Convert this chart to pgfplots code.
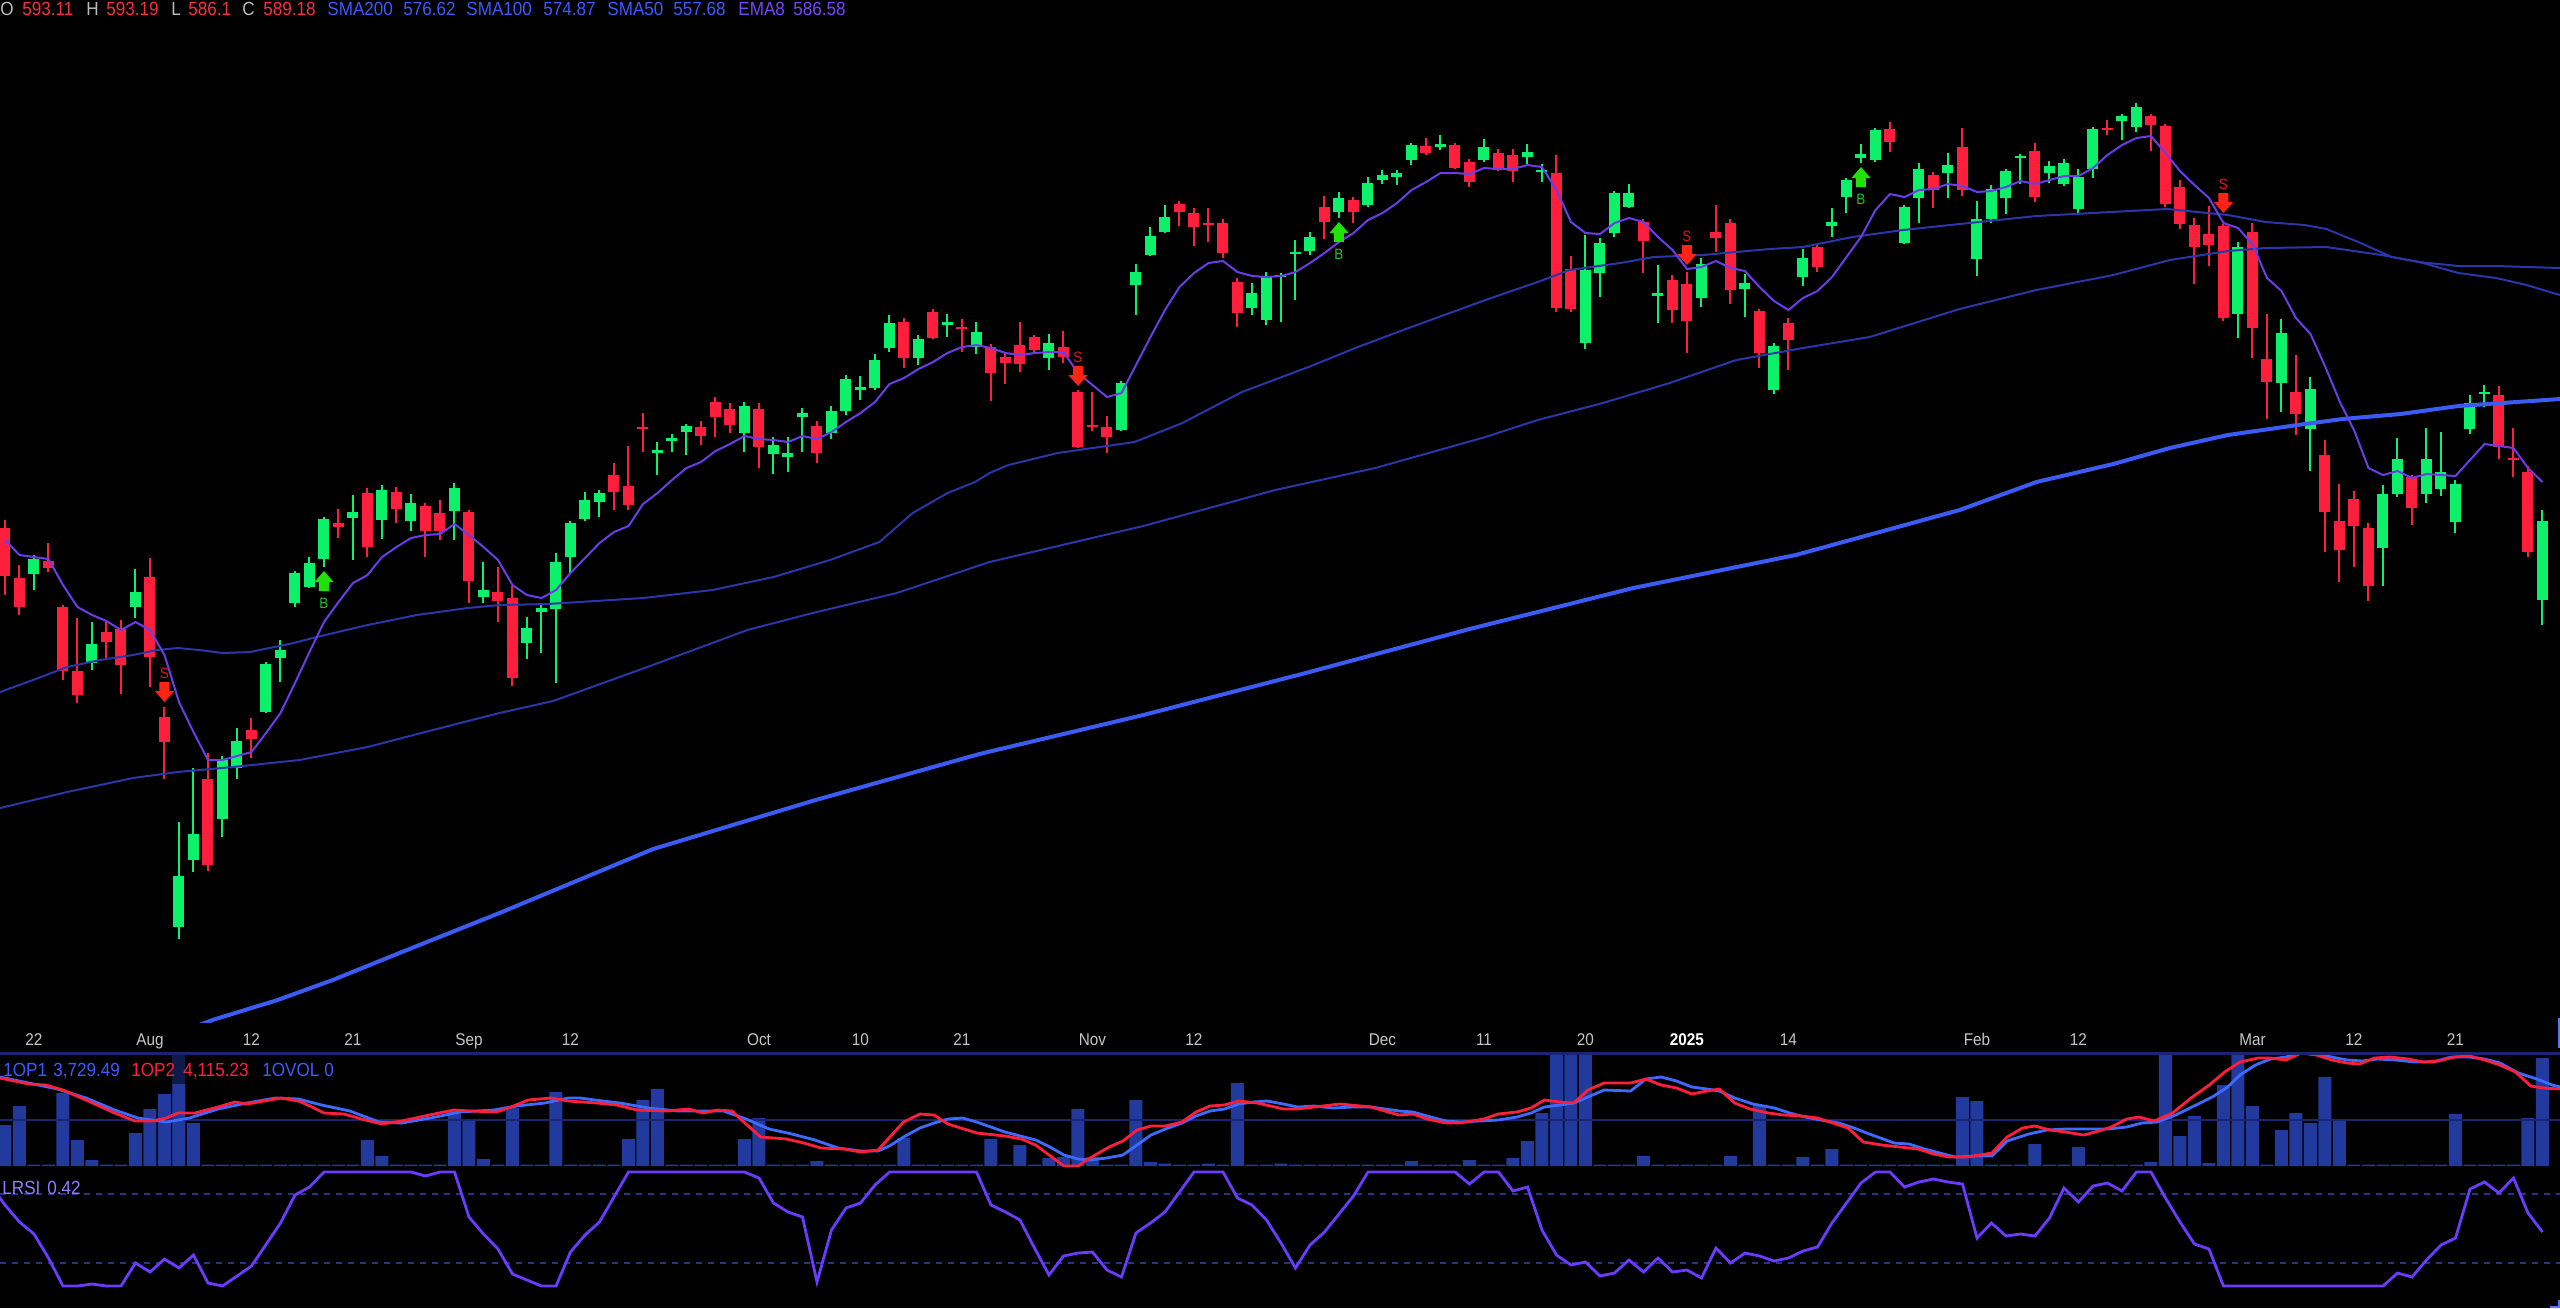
\documentclass[border=0pt]{standalone}
\usepackage{fontspec}
\setmainfont{Liberation Sans}
\newfontfamily\uifont[FakeStretch=0.9]{Liberation Sans}
\usepackage{pgfplots}
\usepackage{pgfplotstable}
\pgfplotsset{compat=1.18}

\definecolor{upc}{HTML}{0CF06A}
\definecolor{dnc}{HTML}{FF1E3C}
\definecolor{emac}{HTML}{6A3DE8}
\definecolor{smathin}{HTML}{2B36A8}
\definecolor{smathick}{HTML}{3A5CF5}
\definecolor{volc}{HTML}{22399E}
\definecolor{hlc}{HTML}{0E1A4A}
\definecolor{opblue}{HTML}{3D6BFF}
\definecolor{opred}{HTML}{FF1F3A}
\definecolor{panelc}{HTML}{1B2470}
\definecolor{lrsic}{HTML}{6B3BFF}
\definecolor{dashc}{HTML}{26348C}
\definecolor{hgrey}{HTML}{BBBBBB}
\definecolor{hred}{HTML}{FF2D3D}
\definecolor{hblue}{HTML}{3A5BFF}
\definecolor{hpurp}{HTML}{7744FF}
\definecolor{lrsilab}{HTML}{8C80FF}
\definecolor{datec}{HTML}{C6C6C6}
\definecolor{sigred}{HTML}{FF2414}
\definecolor{sigtxt}{HTML}{E01818}
\definecolor{siggrn}{HTML}{22E00A}
\definecolor{bgtxt}{HTML}{22C022}
\definecolor{edgec}{HTML}{5577FF}

% buy / sell arrows
\pgfdeclareplotmark{sdown}{%
  \pgfpathmoveto{\pgfqpoint{-2.5pt}{5pt}}%
  \pgfpathlineto{\pgfqpoint{2.5pt}{5pt}}%
  \pgfpathlineto{\pgfqpoint{2.5pt}{0.5pt}}%
  \pgfpathlineto{\pgfqpoint{4.8pt}{0.5pt}}%
  \pgfpathlineto{\pgfqpoint{0pt}{-5pt}}%
  \pgfpathlineto{\pgfqpoint{-4.8pt}{0.5pt}}%
  \pgfpathlineto{\pgfqpoint{-2.5pt}{0.5pt}}%
  \pgfpathclose\pgfusepathqfill}
\pgfdeclareplotmark{bup}{%
  \pgfpathmoveto{\pgfqpoint{-2.5pt}{-5pt}}%
  \pgfpathlineto{\pgfqpoint{2.5pt}{-5pt}}%
  \pgfpathlineto{\pgfqpoint{2.5pt}{-0.5pt}}%
  \pgfpathlineto{\pgfqpoint{4.8pt}{-0.5pt}}%
  \pgfpathlineto{\pgfqpoint{0pt}{5pt}}%
  \pgfpathlineto{\pgfqpoint{-4.8pt}{-0.5pt}}%
  \pgfpathlineto{\pgfqpoint{-2.5pt}{-0.5pt}}%
  \pgfpathclose\pgfusepathqfill}

\pgfplotsset{panel/.style={scale only axis, width=1280pt, anchor=north west,
  xmin=-0.3448, xmax=176.2069, enlargelimits=false,
  axis line style={draw=none}, tick style={draw=none},
  xtick=\empty, ytick=\empty}}

% candles: o h l c in screen rows (small = high price)
\pgfplotstableread[row sep=\\]{
k o h l c\\
2 574 555 590 559\\ 6 663 622 670 644\\ 9 607 569 618 592\\ 12 927 822 939 876\\
13 860 768 872 834\\ 15 819 756 837 760\\ 16 768 728 779 741\\ 18 712 662 713 664\\
19 658 640 682 650\\ 20 603 571 607 573\\ 21 587 557 588 563\\ 22 559 517 567 519\\
24 518 495 560 512\\ 26 520 485 539 490\\ 28 521 494 531 503\\ 31 511 483 540 488\\
33 597 562 603 590\\ 36 643 617 659 628\\ 37 612 605 653 608\\ 38 609 553 683 562\\
39 557 521 573 523\\ 40 519 492 521 500\\ 41 502 490 517 493\\ 45 453 442 475 450\\
46 441 434 452 438\\ 47 432 424 455 426\\ 51 433 402 452 406\\ 53 454 437 474 445\\
54 457 437 472 453\\ 55 417 408 452 413\\ 57 433 406 439 411\\ 58 411 375 415 379\\
59 390 376 400 387\\ 60 388 354 390 360\\ 61 348 315 352 323\\ 63 358 335 365 339\\
65 325 314 337 322\\ 67 347 322 354 332\\ 72 358 334 370 343\\ 77 430 381 431 383\\
78 285 264 315 272\\ 79 255 227 256 236\\ 80 232 205 233 217\\ 86 308 283 315 293\\
87 320 272 325 277\\ 88 277 273 322 275\\ 89 254 240 300 252\\ 90 251 232 255 237\\
92 212 192 218 198\\ 94 205 177 207 183\\ 95 180 170 184 175\\ 96 177 170 185 173\\
97 160 143 165 145\\ 99 147 135 150 144\\ 102 160 139 162 147\\ 105 157 144 164 152\\
106 172 164 182 170\\ 109 343 235 349 270\\ 110 273 238 297 243\\ 111 233 191 237 193\\
112 207 184 208 193\\ 114 296 265 323 293\\ 117 298 258 307 264\\ 120 289 274 317 283\\
122 390 343 394 346\\ 124 277 249 286 258\\ 126 226 208 237 222\\ 127 197 178 213 180\\
128 158 144 163 154\\ 129 160 128 162 130\\ 131 243 205 244 207\\ 132 198 163 223 169\\
134 173 153 198 165\\ 136 259 201 276 219\\ 137 219 185 223 189\\ 138 198 169 214 171\\
139 158 154 184 156\\ 141 173 161 183 166\\ 142 184 159 186 163\\ 143 209 169 215 177\\
144 169 127 178 129\\ 146 121 114 140 116\\ 147 127 103 132 107\\ 154 314 242 338 247\\
157 383 319 412 333\\ 159 429 377 471 389\\ 164 548 485 586 494\\ 165 494 438 497 459\\
167 494 428 503 459\\ 168 489 432 496 472\\ 169 522 480 533 484\\ 170 429 395 434 403\\
171 394 385 407 392\\ 175 600 510 625 521\\
}\upcandles

\pgfplotstableread[row sep=\\]{
k o h l c\\
0 528 520 595 576\\ 1 578 565 615 607\\ 3 561 543 572 568\\ 4 607 605 680 671\\
5 671 618 703 695\\ 7 632 622 659 642\\ 8 629 620 694 665\\ 10 577 558 687 657\\
11 717 707 779 742\\ 14 779 753 871 865\\ 17 730 718 758 739\\ 23 523 509 538 527\\
25 493 488 557 547\\ 27 492 487 523 509\\ 29 506 503 557 531\\ 30 513 500 540 531\\
32 512 510 603 581\\ 34 592 567 622 601\\ 35 598 586 686 678\\ 42 475 463 510 492\\
43 486 446 510 505\\ 44 427 413 452 429\\ 48 427 421 445 436\\ 49 402 397 437 417\\
50 409 403 433 425\\ 52 409 403 468 447\\ 56 426 421 463 453\\ 62 322 318 368 358\\
64 312 309 339 338\\ 66 327 319 352 329\\ 68 347 344 401 373\\ 69 357 353 384 363\\
70 345 322 372 364\\ 71 337 335 354 350\\ 73 347 331 363 357\\ 74 392 390 448 447\\
75 425 392 431 427\\ 76 427 416 453 437\\ 81 204 201 226 212\\ 82 213 208 246 227\\
83 223 208 242 225\\ 84 223 219 258 253\\ 85 282 278 327 313\\ 91 207 196 239 222\\
93 200 197 223 212\\ 98 146 138 155 153\\ 100 145 143 169 168\\ 101 162 159 187 182\\
103 153 149 171 170\\ 104 155 149 182 171\\ 107 173 155 312 308\\ 108 269 256 312 309\\
113 222 219 273 241\\ 115 280 275 323 310\\ 116 284 272 353 321\\ 118 232 205 252 238\\
119 223 219 304 290\\ 121 311 309 368 353\\ 123 323 318 370 340\\ 125 247 245 272 267\\
130 129 122 152 142\\ 133 175 172 208 190\\ 135 147 128 196 190\\ 140 151 143 202 197\\
145 128 120 135 130\\ 148 116 114 151 125\\ 149 126 124 207 204\\ 150 187 180 229 224\\
151 225 218 284 247\\ 152 234 206 266 245\\ 153 226 224 321 318\\ 155 232 223 358 328\\
156 359 314 419 382\\ 158 392 355 435 414\\ 160 455 440 552 512\\ 161 521 484 582 550\\
162 499 491 567 526\\ 163 528 523 601 586\\ 166 477 475 525 508\\ 172 395 386 459 447\\
173 458 428 477 460\\ 174 472 466 557 552\\
}\downcandles

\pgfplotstableread[row sep=\\]{
k y\\
0 540\\ 1 555\\ 2 557\\ 3 559\\ 4 585\\ 5 607\\ 6 615\\ 7 621\\ 8 630\\ 9 622\\
10 630\\ 11 655\\ 12 702\\ 13 732\\ 14 760\\ 15 760\\ 16 756\\ 17 752\\ 18 733\\ 19 713\\
20 683\\ 21 652\\ 22 622\\ 23 602\\ 24 583\\ 25 575\\ 26 557\\ 27 547\\ 28 538\\ 29 535\\
30 534\\ 31 524\\ 32 535\\ 33 547\\ 34 560\\ 35 585\\ 36 595\\ 37 598\\ 38 590\\ 39 573\\
40 558\\ 41 543\\ 42 532\\ 43 526\\ 44 504\\ 45 493\\ 46 480\\ 47 468\\ 48 462\\ 49 451\\
50 444\\ 51 436\\ 52 439\\ 53 440\\ 54 442\\ 55 436\\ 56 439\\ 57 432\\ 58 422\\ 59 413\\
60 402\\ 61 384\\ 62 378\\ 63 369\\ 64 362\\ 65 353\\ 66 347\\ 67 345\\ 68 348\\ 69 353\\
70 355\\ 71 353\\ 72 352\\ 73 352\\ 74 373\\ 75 385\\ 76 397\\ 77 393\\ 78 365\\ 79 337\\
80 310\\ 81 287\\ 82 273\\ 83 263\\ 84 261\\ 85 272\\ 86 276\\ 87 277\\ 88 276\\ 89 272\\
90 263\\ 91 253\\ 92 242\\ 93 233\\ 94 220\\ 95 213\\ 96 203\\ 97 190\\ 98 182\\ 99 173\\
100 173\\ 101 174\\ 102 168\\ 103 169\\ 104 169\\ 105 165\\ 106 167\\ 107 190\\ 108 222\\ 109 233\\
110 234\\ 111 223\\ 112 218\\ 113 222\\ 114 237\\ 115 250\\ 116 269\\ 117 267\\ 118 261\\ 119 268\\
120 271\\ 121 287\\ 122 301\\ 123 310\\ 124 298\\ 125 291\\ 126 277\\ 127 257\\ 128 237\\ 129 210\\
130 194\\ 131 197\\ 132 190\\ 133 189\\ 134 184\\ 135 186\\ 136 192\\ 137 191\\ 138 187\\ 139 181\\
140 184\\ 141 180\\ 142 176\\ 143 176\\ 144 168\\ 145 155\\ 146 145\\ 147 138\\ 148 136\\ 149 153\\
150 171\\ 151 185\\ 152 198\\ 153 223\\ 154 228\\ 155 244\\ 156 278\\ 157 291\\ 158 318\\ 159 334\\
160 366\\ 161 401\\ 162 430\\ 163 468\\ 164 475\\ 165 471\\ 166 478\\ 167 474\\ 168 475\\ 169 476\\
170 460\\ 171 444\\ 172 446\\ 173 448\\ 174 468\\ 175 482\\
}\emaeight

\pgfplotstableread[row sep=\\]{
k y\\
-0.34 692\\ 1.93 680\\ 4.28 667\\ 6.55 660\\ 8.83 655\\ 10.5 650\\ 11.9 648\\ 13.4 650\\
15 653\\ 16.9 652\\ 19.9 643\\ 21.5 637\\ 25 625\\ 28.4 615\\ 31.9 608\\ 34.1 605\\
37.4 604\\ 44 598\\ 48.8 590\\ 53 577\\ 56.9 560\\ 60.3 542\\ 62.6 513\\ 65 493\\
66.9 482\\ 67.9 473\\ 69.2 465\\ 72.6 453\\ 77.9 442\\ 81.2 423\\ 85.3 392\\ 89.9 367\\
93.3 347\\ 96.8 328\\ 102.1 300\\ 105.7 282\\ 107.9 270\\ 111.4 263\\ 113.7 257\\ 117.1 255\\
121.7 249\\ 124 247\\ 127.4 237\\ 130.9 230\\ 134.8 224\\ 140.1 216\\ 149.1 209\\ 153.3 215\\
155.9 222\\ 158.6 225\\ 160.1 229\\ 162.3 242\\ 164.6 257\\ 166.5 262\\ 169.2 273\\ 171.8 278\\
173.9 285\\ 176.2 295\\
}\smafifty

\pgfplotstableread[row sep=\\]{
k y\\
-0.34 808\\ 4.28 792\\ 8.83 778\\ 11.9 772\\ 15.7 767\\ 20.3 760\\ 25 747\\ 29.5 730\\
34.1 713\\ 37.8 701\\ 44.3 667\\ 51.2 630\\ 55.7 613\\ 61.5 593\\ 67.9 562\\ 78.5 526\\
87.6 490\\ 94.5 468\\ 102.1 437\\ 105.7 420\\ 110.2 403\\ 114.8 383\\ 119.4 360\\ 124 348\\
128.6 337\\ 134.8 309\\ 140.1 290\\ 145.4 275\\ 149.3 260\\ 153.3 251\\ 155.9 248\\ 160.1 247\\
163.9 255\\ 166.5 262\\ 169.2 266\\ 171.8 266\\ 176.2 268\\
}\smahundred

\pgfplotstableread[row sep=\\]{
k y\\
10 1044\\ 14.3 1020\\ 18.8 1000\\ 22.6 980\\ 27.2 953\\ 34.1 913\\ 44.7 849\\ 55.9 800\\
67.2 754\\ 78.5 715\\ 89.7 673\\ 101 629\\ 112.3 588\\ 123.5 555\\ 134.8 510\\ 140.1 482\\
145.4 464\\ 149.3 448\\ 153.3 435\\ 158.1 425\\ 161.2 419\\ 165.2 414\\ 169.2 406\\ 176.2 399\\
}\smatwohundred

\pgfplotstableread[row sep=\\]{
k y\\ 11 692\\ 74 376\\ 116 255\\ 153 203\\
}\sells
\pgfplotstableread[row sep=\\]{
k y\\ 22 581\\ 92 232\\ 128 177\\
}\buys

% volume bar heights (px of panel)
\pgfplotstableread[row sep=\\]{
k v\\
0 41\\ 1 60\\ 2 1.5\\ 3 1.5\\ 4 73\\ 5 26\\ 6 6\\ 7 1.5\\ 8 1.5\\ 9 33\\
10 57\\ 11 72\\ 12 82\\ 13 43\\ 14 1.5\\ 15 1.5\\ 16 1.5\\ 17 1.5\\ 18 1.5\\ 19 1.5\\
20 1.5\\ 21 1.5\\ 22 1.5\\ 23 1.5\\ 24 1.5\\ 25 26\\ 26 10\\ 27 1.5\\ 28 1.5\\ 29 1.5\\
30 1.5\\ 31 55\\ 32 47\\ 33 7\\ 34 1.5\\ 35 58\\ 36 1.5\\ 37 1.5\\ 38 74\\ 39 1.5\\
40 1.5\\ 41 1.5\\ 42 1.5\\ 43 27\\ 44 66\\ 45 77\\ 46 1.5\\ 47 1.5\\ 48 1.5\\ 49 1.5\\
50 1.5\\ 51 27\\ 52 48\\ 53 1.5\\ 54 1.5\\ 55 1.5\\ 56 5\\ 57 1.5\\ 58 1.5\\ 59 1.5\\
60 1.5\\ 61 1.5\\ 62 28\\ 63 1.5\\ 64 1.5\\ 65 1.5\\ 66 1.5\\ 67 1.5\\ 68 27\\ 69 1.5\\
70 21\\ 71 1.5\\ 72 8\\ 73 9\\ 74 57\\ 75 9\\ 76 1.5\\ 77 1.5\\ 78 66\\ 79 4\\
80 2.5\\ 81 1.5\\ 82 1.5\\ 83 2.5\\ 84 1.5\\ 85 83\\ 86 1.5\\ 87 1.5\\ 88 2.5\\ 89 1.5\\
90 1.5\\ 91 1.5\\ 92 1.5\\ 93 1.5\\ 94 1.5\\ 95 1.5\\ 96 1.5\\ 97 5\\ 98 1.5\\ 99 1.5\\
100 1.5\\ 101 6\\ 102 1.5\\ 103 1.5\\ 104 8\\ 105 25\\ 106 53\\ 107 120\\ 108 120\\ 109 120\\
110 1.5\\ 111 1.5\\ 112 1.5\\ 113 10\\ 114 1.5\\ 115 1.5\\ 116 1.5\\ 117 1.5\\ 118 1.5\\ 119 10\\
120 1.5\\ 121 61\\ 122 1.5\\ 123 1.5\\ 124 9\\ 125 1.5\\ 126 17\\ 127 1.5\\ 128 1.5\\ 129 1.5\\
130 1.5\\ 131 1.5\\ 132 1.5\\ 133 1.5\\ 134 1.5\\ 135 69\\ 136 65\\ 137 1.5\\ 138 1.5\\ 139 1.5\\
140 22\\ 141 1.5\\ 142 1.5\\ 143 19\\ 144 1.5\\ 145 1.5\\ 146 1.5\\ 147 1.5\\ 148 4\\ 149 120\\
150 30\\ 151 50\\ 152 3\\ 153 81\\ 154 120\\ 155 60\\ 156 1.5\\ 157 36\\ 158 53\\ 159 43\\
160 89\\ 161 45\\ 162 1.5\\ 163 1.5\\ 164 1.5\\ 165 1.5\\ 166 1.5\\ 167 1.5\\ 168 1.5\\ 169 52\\
170 1.5\\ 171 1.5\\ 172 1.5\\ 173 1.5\\ 174 48\\ 175 108\\
}\volume

\pgfplotstableread[row sep=\\]{
k y\\
-0.34 1077\\ 1.63 1083\\ 3.61 1089\\ 5.59 1098\\ 7.57 1110\\ 9.16 1118\\ 11.14 1122\\ 12.72 1118\\
14.69 1109\\ 16.68 1103\\ 18.66 1098\\ 20.24 1099\\ 21.83 1105\\ 23.79 1111\\ 25.79 1122\\ 27.37 1123\\
29.72 1117\\ 31.31 1112\\ 33.7 1110\\ 35.28 1106\\ 37.24 1103\\ 38.83 1098\\ 39.64 1098\\ 41.23 1101\\
42.41 1103\\ 44.39 1108\\ 46.37 1111\\ 49.54 1111\\ 51.12 1119\\ 52.7 1129\\ 54.28 1134\\ 55.86 1140\\
57.45 1148\\ 59.03 1151\\ 60.21 1151\\ 60.99 1146\\ 61.97 1137\\ 63.1 1128\\ 64.07 1123\\ 65.03 1119\\
66.04 1118\\ 67.01 1122\\ 68.97 1132\\ 71.08 1140\\ 72.07 1147\\ 73.03 1155\\ 74 1159\\ 74.83 1160\\
75.97 1158\\ 77.1 1155\\ 78.07 1145\\ 79.03 1135\\ 80.03 1129\\ 81.17 1123\\ 82.14 1116\\ 83.1 1111\\
84.1 1109\\ 85.08 1104\\ 86.06 1102\\ 87.03 1101\\ 88.17 1104\\ 89.15 1107\\ 90.28 1106\\ 91.59 1108\\
92.9 1107\\ 94.21 1107\\ 95.17 1109\\ 96.14 1111\\ 97.1 1112\\ 98.07 1116\\ 99.38 1121\\ 100.34 1122\\
101.66 1121\\ 102.97 1120\\ 104.28 1117\\ 105.24 1113\\ 106.17 1107\\ 107.21 1105\\ 108.19 1103\\ 109.17 1097\\
110.28 1090\\ 112.11 1091\\ 113.17 1079\\ 114.21 1077\\ 115.28 1081\\ 116.34 1087\\ 117.38 1089\\ 118.23 1091\\
119.29 1098\\ 120.55 1104\\ 122.03 1108\\ 123.09 1113\\ 124.14 1117\\ 125.21 1120\\ 126.47 1123\\ 127.52 1128\\
128.58 1134\\ 130.28 1143\\ 131.31 1144\\ 132.39 1149\\ 133.44 1153\\ 134.5 1157\\ 135.97 1156\\ 137.03 1156\\
138.08 1141\\ 139.57 1134\\ 140.83 1130\\ 142.1 1129\\ 143.79 1129\\ 145.05 1129\\ 146.32 1127\\ 147.37 1123\\
148.43 1122\\ 149.7 1115\\ 150.97 1106\\ 152.23 1097\\ 153.29 1087\\ 154.14 1075\\ 155.21 1065\\ 156.24 1059\\
157.3 1057\\ 158.36 1053\\ 159.41 1054\\ 160.47 1057\\ 161.52 1060\\ 162.59 1061\\ 163.63 1059\\ 164.9 1060\\
166.17 1062\\ 167.43 1062\\ 168.7 1057\\ 169.97 1057\\ 171.02 1059\\ 172.07 1063\\ 173.34 1073\\ 174.61 1079\\
175.67 1085\\ 176.21 1087\\
}\opone

\pgfplotstableread[row sep=\\]{
k y\\
-0.34 1078\\ 1.63 1084\\ 2.83 1085\\ 4 1090\\ 5.59 1100\\ 7.57 1113\\ 8.97 1121\\ 10.14 1121\\
11.14 1118\\ 11.93 1113\\ 13.1 1113\\ 14.69 1107\\ 15.86 1102\\ 16.69 1104\\ 17.86 1101\\ 19.03 1098\\
20.24 1101\\ 21.03 1106\\ 22 1113\\ 23.38 1114\\ 24.59 1119\\ 25.98 1124\\ 27.37 1121\\ 28.95 1116\\
30.93 1110\\ 32.12 1111\\ 33.9 1112\\ 34.9 1107\\ 36.07 1100\\ 37.66 1098\\ 38.83 1101\\ 40.83 1103\\
42.21 1105\\ 43.59 1110\\ 45.59 1111\\ 47.17 1109\\ 48.14 1113\\ 49.14 1110\\ 50.14 1111\\ 51.1 1124\\
52.11 1137\\ 53.9 1139\\ 55.08 1143\\ 56.28 1148\\ 57.86 1149\\ 59.03 1152\\ 60.21 1150\\ 61.97 1122\\
63.1 1114\\ 64.07 1115\\ 65.03 1124\\ 67.03 1133\\ 68.97 1136\\ 70.11 1139\\ 71.08 1145\\ 73.03 1166\\
74 1166\\ 74.83 1158\\ 76.14 1147\\ 77.1 1141\\ 78.07 1130\\ 79.03 1126\\ 80.03 1126\\ 81.17 1122\\
82.14 1112\\ 83.1 1106\\ 84.1 1105\\ 85.08 1101\\ 86.38 1103\\ 88.17 1109\\ 89.15 1109\\ 90.28 1107\\
92.07 1104\\ 94.21 1107\\ 95.17 1111\\ 96.14 1115\\ 97.1 1114\\ 98.07 1119\\ 99.38 1123\\ 100.34 1123\\
102 1119\\ 102.97 1114\\ 104.28 1112\\ 105.24 1108\\ 106.17 1100\\ 107.21 1102\\ 108.19 1103\\ 109.17 1090\\
110.28 1083\\ 112.11 1083\\ 113.17 1079\\ 114.21 1085\\ 115.28 1088\\ 116.34 1094\\ 117.38 1091\\ 118.23 1089\\
119.29 1103\\ 120.34 1109\\ 121.61 1113\\ 122.67 1115\\ 123.93 1116\\ 125 1118\\ 126.05 1123\\ 127.1 1128\\
128.16 1142\\ 129.43 1145\\ 130.69 1147\\ 131.96 1149\\ 133.01 1154\\ 134.07 1157\\ 135.34 1157\\ 137.03 1153\\
138.08 1137\\ 139.14 1128\\ 139.99 1126\\ 141.03 1130\\ 142.1 1132\\ 143.37 1135\\ 144.41 1131\\ 145.26 1127\\
146.32 1119\\ 147.17 1117\\ 148.22 1121\\ 149.49 1113\\ 150.76 1098\\ 152.02 1085\\ 153.08 1072\\ 154.14 1062\\
155.4 1058\\ 156.24 1058\\ 157.3 1060\\ 158.36 1053\\ 159.41 1055\\ 160.47 1060\\ 161.52 1063\\ 162.37 1064\\
163.42 1058\\ 164.48 1057\\ 165.74 1059\\ 166.8 1062\\ 167.86 1061\\ 168.91 1057\\ 169.97 1056\\ 171.02 1060\\
172.07 1065\\ 173.14 1072\\ 174.19 1086\\ 175.03 1088\\ 176.21 1089\\
}\optwo

\pgfplotstableread[row sep=\\]{
k y\\
-1 1185\\ 0 1205\\ 1 1222\\ 2 1234\\ 3 1258\\ 4 1286\\ 5 1286\\ 6 1284\\ 7 1286\\ 8 1286\\
9 1263\\ 10 1272\\ 11 1259\\ 12 1268\\ 13 1255\\ 14 1283\\ 15 1286\\ 17 1266\\ 19 1223\\ 20 1195\\
21 1187\\ 22 1172\\ 28 1172\\ 29 1176\\ 30 1172\\ 31 1172\\ 32 1217\\ 33 1234\\ 34 1249\\ 35 1274\\
37 1286\\ 38 1286\\ 39 1252\\ 40 1235\\ 41 1222\\ 43 1172\\ 51 1172\\ 52 1178\\ 53 1203\\ 54 1212\\
55 1217\\ 56 1282\\ 57 1230\\ 58 1208\\ 59 1203\\ 60 1185\\ 61 1172\\ 67 1172\\ 68 1205\\ 69 1212\\
70 1220\\ 71 1248\\ 72 1275\\ 73 1256\\ 74 1253\\ 75 1252\\ 76 1270\\ 77 1277\\ 78 1233\\ 79 1223\\
80 1212\\ 81 1192\\ 82 1172\\ 84 1172\\ 85 1198\\ 86 1205\\ 87 1220\\ 88 1243\\ 89 1268\\ 90 1245\\
91 1232\\ 92 1214\\ 93 1196\\ 94 1172\\ 100 1172\\ 101 1184\\ 102 1172\\ 103 1172\\ 104 1191\\ 105 1187\\
106 1230\\ 107 1255\\ 108 1265\\ 109 1262\\ 110 1276\\ 111 1273\\ 112 1260\\ 113 1272\\ 114 1258\\ 115 1272\\
116 1270\\ 117 1278\\ 118 1248\\ 119 1263\\ 120 1253\\ 121 1256\\ 122 1261\\ 123 1258\\ 124 1251\\ 125 1247\\
126 1223\\ 127 1203\\ 128 1183\\ 129 1172\\ 130 1172\\ 131 1187\\ 132 1182\\ 133 1179\\ 134 1182\\ 135 1184\\
136 1238\\ 137 1223\\ 138 1236\\ 139 1234\\ 140 1236\\ 141 1218\\ 142 1188\\ 143 1202\\ 144 1186\\ 145 1183\\
146 1191\\ 147 1172\\ 148 1172\\ 149 1198\\ 150 1222\\ 151 1244\\ 152 1249\\ 153 1286\\ 164 1286\\ 165 1273\\
166 1277\\ 167 1260\\ 168 1245\\ 169 1238\\ 170 1189\\ 171 1182\\ 172 1193\\ 173 1178\\ 174 1213\\ 175 1232\\
}\lrsi

\begin{document}
\begin{tikzpicture}[x=1pt,y=1pt]
\useasboundingbox (0,0) rectangle (1280,-654);
\fill[black] (0,0) rectangle (1280,-654);

% price panel
\begin{axis}[panel, at={(0pt,0pt)}, height=511pt, ymin=0, ymax=1022, y dir=reverse]
\addplot[draw=none, mark=none, forget plot, error bars/.cd, y dir=plus, y explicit, error mark=none,
  error bar style={draw=upc, solid, line width=1pt}]
  table[x=k, y=h, y error plus expr=\thisrow{l}-\thisrow{h}] {\upcandles};
\addplot[draw=none, mark=none, forget plot, error bars/.cd, y dir=plus, y explicit, error mark=none,
  error bar style={draw=upc, solid, line width=5.5pt}]
  table[x=k, y=c, y error plus expr=\thisrow{o}-\thisrow{c}] {\upcandles};
\addplot[draw=none, mark=none, forget plot, error bars/.cd, y dir=plus, y explicit, error mark=none,
  error bar style={draw=dnc, solid, line width=1pt}]
  table[x=k, y=h, y error plus expr=\thisrow{l}-\thisrow{h}] {\downcandles};
\addplot[draw=none, mark=none, forget plot, error bars/.cd, y dir=plus, y explicit, error mark=none,
  error bar style={draw=dnc, solid, line width=5.5pt}]
  table[x=k, y=o, y error plus expr=\thisrow{c}-\thisrow{o}] {\downcandles};
\addplot[smathick, line width=2pt, mark=none] table[x=k, y=y] {\smatwohundred};
\addplot[smathin, line width=1pt, mark=none] table[x=k, y=y] {\smahundred};
\addplot[smathin, line width=1pt, mark=none] table[x=k, y=y] {\smafifty};
\addplot[emac, line width=1pt, mark=none] table[x=k, y=y] {\emaeight};
\addplot[only marks, mark=sdown, color=sigred, nodes near coords={S},
  every node near coord/.style={anchor=center, yshift=9.5pt, text=sigtxt,
  font=\uifont\fontsize{7.5}{8}\selectfont}] table[x=k, y=y] {\sells};
\addplot[only marks, mark=bup, color=siggrn, nodes near coords={B},
  every node near coord/.style={anchor=center, yshift=-11pt, text=bgtxt,
  font=\uifont\fontsize{7.5}{8}\selectfont}] table[x=k, y=y] {\buys};
\end{axis}

% volume panel
\begin{axis}[panel, at={(0pt,-526.5pt)}, height=56.5pt, ymin=0, ymax=113,
  xtick={2,10,17,24,32,39,52,59,66,75,82,95,102,109,116,123,136,143,155,162,169},
  xticklabels={22,Aug,12,21,Sep,12,Oct,10,21,Nov,12,Dec,11,20,{\textcolor{white}{\bfseries 2025}},14,Feb,12,Mar,12,21},
  xticklabel pos=upper,
  xticklabel style={anchor=base, yshift=4pt, text=datec, font=\uifont\fontsize{8.5}{9}\selectfont}]
\addplot[ybar, bar width=6.5pt, bar shift=0pt, fill=hlc, draw=none] coordinates {(12,113)};
\addplot[ybar, bar width=6.5pt, bar shift=0pt, fill=volc, draw=none] table[x=k, y=v] {\volume};
\end{axis}
\begin{axis}[panel, at={(0pt,-526.5pt)}, height=56.5pt, ymin=1053, ymax=1166, y dir=reverse,
  extra y ticks={1120}, extra y tick labels={},
  extra y tick style={grid=major, major grid style={draw=panelc, line width=0.8pt}}]
\addplot[opblue, line width=1.4pt, mark=none] table[x=k, y=y] {\opone};
\addplot[opred, line width=1.4pt, mark=none] table[x=k, y=y] {\optwo};
\end{axis}

% LRSI panel
\begin{axis}[panel, at={(0pt,-583pt)}, height=71pt, ymin=1166, ymax=1308, y dir=reverse,
  extra y ticks={1193.5,1262.5}, extra y tick labels={},
  extra y tick style={grid=major, major grid style={draw=dashc, line width=1pt, dash pattern=on 3pt off 3pt}}]
\addplot[lrsic, line width=1.4pt, mark=none] table[x=k, y=y] {\lrsi};
\end{axis}

\draw[panelc, line width=1.5pt] (0,-526.5) -- (1280,-526.5);
\draw[edgec, line width=1pt] (1279.3,-509) -- (1279.3,-524);
\draw[edgec, line width=0.8pt] (1275,-653.6) -- (1279.6,-653.6) -- (1279.6,-650);

% header
\begin{scope}[every node/.style={anchor=base west, inner sep=0pt, font=\uifont\fontsize{9.5}{10}\selectfont}]
\node[text=hgrey] at (0,-7.5) {O};
\node[text=hred] at (11,-7.5) {593.11};
\node[text=hgrey] at (43,-7.5) {H};
\node[text=hred] at (53,-7.5) {593.19};
\node[text=hgrey] at (85.5,-7.5) {L};
\node[text=hred] at (94,-7.5) {586.1};
\node[text=hgrey] at (121,-7.5) {C};
\node[text=hred] at (131.5,-7.5) {589.18};
\node[text=hblue] at (163.5,-7.5) {SMA200};
\node[text=hblue] at (201.5,-7.5) {576.62};
\node[text=hblue] at (233,-7.5) {SMA100};
\node[text=hblue] at (271.5,-7.5) {574.87};
\node[text=hblue] at (303.5,-7.5) {SMA50};
\node[text=hblue] at (336.5,-7.5) {557.68};
\node[text=hpurp] at (369,-7.5) {EMA8};
\node[text=hpurp] at (396.5,-7.5) {586.58};
\node[text=hblue] at (1.5,-538) {1OP1};
\node[text=hblue] at (26.5,-538) {3,729.49};
\node[text=opred] at (65.5,-538) {1OP2};
\node[text=opred] at (91.5,-538) {4,115.23};
\node[text=hblue] at (131,-538) {1OVOL};
\node[text=hblue] at (162,-538) {0};
\node[text=lrsilab] at (1,-597) {LRSI};
\node[text=lrsilab] at (23.5,-597) {0.42};
\end{scope}
\end{tikzpicture}
\end{document}
